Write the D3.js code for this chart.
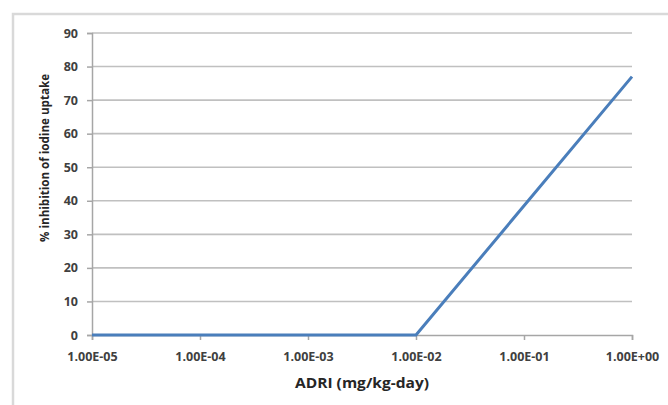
<!DOCTYPE html>
<html>
<head>
<meta charset="utf-8">
<script src="https://cdn.jsdelivr.net/npm/d3@7"></script>
<style>
  body { margin: 0; background: #fff; }
  svg { display: block; }
  text { font-family: "Open Sans", "Liberation Sans", sans-serif; }
</style>
</head>
<body>
<svg id="chart" width="668" height="405"></svg>
<script>
'use strict';

// data
var doses = [1e-5, 1e-4, 1e-3, 1e-2, 1e-1, 1];
var inhibition = [0, 0, 0, 0, 38.5, 77];
var xTickLabels = ['1.00E-05', '1.00E-04', '1.00E-03', '1.00E-02', '1.00E-01', '1.00E+00'];
var yTicks = [0, 10, 20, 30, 40, 50, 60, 70, 80, 90];

var svg = d3.select('#chart');

// chart area border (left + top only visible)
svg.append('path')
  .attr('d', 'M13,405 V14 H668')
  .attr('fill', 'none')
  .attr('stroke', '#d9d9d9')
  .attr('stroke-width', 2.5);

var plot = { left: 92, right: 632, top: 33, bottom: 335 };

var x = d3.scaleLog().domain([1e-5, 1]).range([plot.left, plot.right]);
var y = d3.scaleLinear().domain([0, 90]).range([plot.bottom, plot.top]);

// gridlines
svg.append('g')
  .selectAll('line')
  .data(yTicks.filter(function(d){ return d > 0; }))
  .enter().append('line')
  .attr('x1', plot.left).attr('x2', plot.right)
  .attr('y1', function(d){ return y(d); })
  .attr('y2', function(d){ return y(d); })
  .attr('stroke', '#c0c0c0')
  .attr('stroke-width', 1.6);

// y axis
var yAxis = svg.append('g')
  .attr('transform', 'translate(' + plot.left + ',0)')
  .call(d3.axisLeft(y).tickValues(yTicks).tickSize(5).tickPadding(9).tickFormat(d3.format('d')));

// x axis
var xAxis = svg.append('g')
  .attr('transform', 'translate(0,' + plot.bottom + ')')
  .call(d3.axisBottom(x).tickValues(doses).tickSize(5).tickPadding(12)
    .tickFormat(function(d, i){ return xTickLabels[i]; }));

[yAxis, xAxis].forEach(function(ax){
  ax.select('.domain').attr('stroke', '#a6a6a6').attr('stroke-width', 1.5);
  ax.selectAll('.tick line').attr('stroke', '#a6a6a6').attr('stroke-width', 1.5);
  ax.selectAll('.tick text')
    .attr('fill', '#404040')
    .attr('font-size', 12.5)
    .attr('font-weight', 'bold')
    .style('font-family', '"Open Sans", "Liberation Sans", sans-serif');
});

// data line
var line = d3.line()
  .x(function(d){ return x(d[0]); })
  .y(function(d){ return y(d[1]); });

svg.append('path')
  .datum(d3.zip(doses, inhibition))
  .attr('d', line)
  .attr('fill', 'none')
  .attr('stroke', '#4a7ebb')
  .attr('stroke-width', 3)
  .attr('stroke-linejoin', 'round');

// axis titles
svg.append('text')
  .attr('x', 362).attr('y', 388)
  .attr('text-anchor', 'middle')
  .attr('font-size', 15)
  .attr('font-weight', 'bold')
  .attr('fill', '#262626')
  .attr('textLength', 134)
  .attr('lengthAdjust', 'spacingAndGlyphs')
  .text('ADRI (mg/kg-day)');

svg.append('text')
  .attr('transform', 'translate(49,158) rotate(-90)')
  .attr('text-anchor', 'middle')
  .attr('font-size', 13)
  .attr('font-weight', 'bold')
  .attr('fill', '#262626')
  .attr('textLength', 168)
  .attr('lengthAdjust', 'spacingAndGlyphs')
  .text('% inhibition of iodine uptake');
</script>
</body>
</html>
